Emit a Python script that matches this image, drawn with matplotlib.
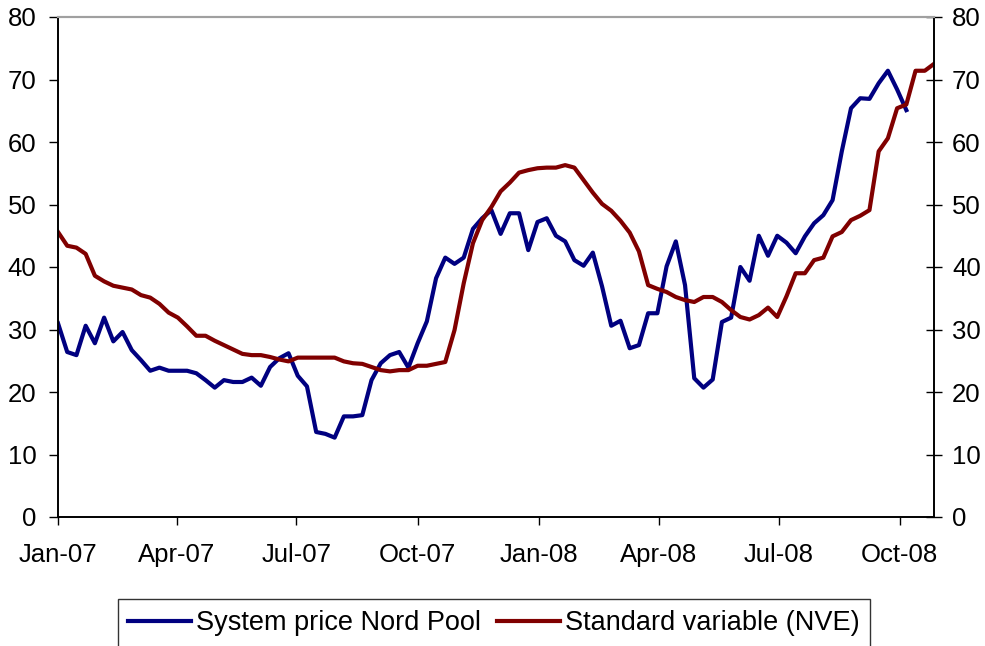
import matplotlib
matplotlib.use("Agg")
import matplotlib.pyplot as plt
import matplotlib.dates as mdates
import pandas as pd

plt.rcParams['font.family'] = ['Liberation Sans', 'DejaVu Sans']

# weekly observations from the first week of 2007
start = "2007-01-01"

nord_pool = [
    31.0, 26.4, 25.9, 30.6, 27.8, 31.9, 28.1, 29.6, 26.7, 25.1,
    23.4, 23.9, 23.4, 23.4, 23.4, 23.0, 21.9, 20.7, 21.9, 21.6,
    21.6, 22.3, 21.0, 24.0, 25.4, 26.2, 22.6, 20.9, 13.6, 13.3,
    12.7, 16.1, 16.1, 16.3, 21.9, 24.6, 25.9, 26.4, 23.9, 27.8,
    31.3, 38.2, 41.5, 40.5, 41.5, 46.1, 47.8, 49.1, 45.3, 48.6,
    48.6, 42.7, 47.2, 47.8, 45.0, 44.1, 41.1, 40.2, 42.3, 36.9,
    30.6, 31.4, 27.0, 27.5, 32.6, 32.6, 40.1, 44.1, 37.1, 22.2,
    20.7, 22.0, 31.2, 31.9, 40.0, 37.8, 45.0, 41.8, 45.0, 43.9,
    42.2, 44.9, 47.0, 48.3, 50.7, 58.5, 65.4, 67.0, 66.9, 69.4,
    71.4, 68.4, 65.1,
]

nve_standard = [
    45.6, 43.4, 43.1, 42.1, 38.6, 37.7, 37.0, 36.7, 36.4, 35.5,
    35.1, 34.1, 32.7, 31.9, 30.5, 29.0, 29.0, 28.2, 27.5, 26.8,
    26.1, 25.9, 25.9, 25.6, 25.2, 24.9, 25.5, 25.5, 25.5, 25.5,
    25.5, 24.9, 24.6, 24.5, 24.0, 23.5, 23.3, 23.5, 23.5, 24.2,
    24.2, 24.5, 24.8, 29.9, 37.4, 43.8, 47.5, 49.6, 52.1, 53.5,
    55.1, 55.5, 55.8, 55.9, 55.9, 56.3, 55.9, 53.9, 51.9, 50.1,
    49.0, 47.4, 45.5, 42.5, 37.1, 36.5, 36.0, 35.2, 34.7, 34.4,
    35.2, 35.2, 34.4, 33.1, 32.0, 31.6, 32.3, 33.5, 32.0, 35.3,
    39.0, 39.0, 41.1, 41.5, 44.9, 45.6, 47.5, 48.2, 49.1, 58.5,
    60.6, 65.4, 66.0, 71.4, 71.4, 72.5,
]

labels = ["System price Nord Pool", "Standard variable (NVE)"]
y_ticks = [0, 10, 20, 30, 40, 50, 60, 70, 80]

weeks = pd.date_range(start, periods=len(nve_standard), freq="7D")

fig = plt.figure(figsize=(9.85, 6.46), dpi=100)
ax = fig.add_axes([58/985, 1-517/646, (934-58)/985, 500/646])

ax.plot(weeks[:len(nord_pool)], nord_pool, color="#000080", lw=3, label=labels[0])
ax.plot(weeks, nve_standard, color="#800000", lw=3, label=labels[1])

ax.set_xlim(weeks[0], weeks[-1])
ax.set_ylim(0, 80)
ax.set_yticks(y_ticks)
ax.xaxis.set_major_locator(mdates.MonthLocator(bymonth=[1, 4, 7, 10]))
ax.xaxis.set_major_formatter(mdates.DateFormatter("%b-%y"))

fs = 18.5
ax.tick_params(axis="y", direction="out", length=6.5, width=1, pad=9, labelsize=fs)
ax.tick_params(axis="x", direction="out", length=6, width=1, pad=13, labelsize=fs)
for t in ax.get_xticklines():
    t.set_color("#808080")

ax2 = ax.twinx()
ax2.set_ylim(0, 80)
ax2.set_yticks(y_ticks)
ax2.tick_params(axis="y", direction="inout", length=12, width=1, pad=7, labelsize=fs)

for a in (ax, ax2):
    a.spines["top"].set_color("#a0a0a0")
    a.spines["top"].set_linewidth(1.5)
    for s in ("left", "right", "bottom"):
        a.spines[s].set_color("black")
        a.spines[s].set_linewidth(1.2)

leg = fig.legend(loc="center", bbox_to_anchor=(494/985, 1-623/646), ncol=2,
                 fontsize=19.5, frameon=True, fancybox=False, handlelength=2.3,
                 handletextpad=0.2, columnspacing=0.6, borderpad=0.4,
                 borderaxespad=0)
leg.get_frame().set_edgecolor("black")
leg.get_frame().set_linewidth(1)

fig.savefig("out.png", dpi=100)
